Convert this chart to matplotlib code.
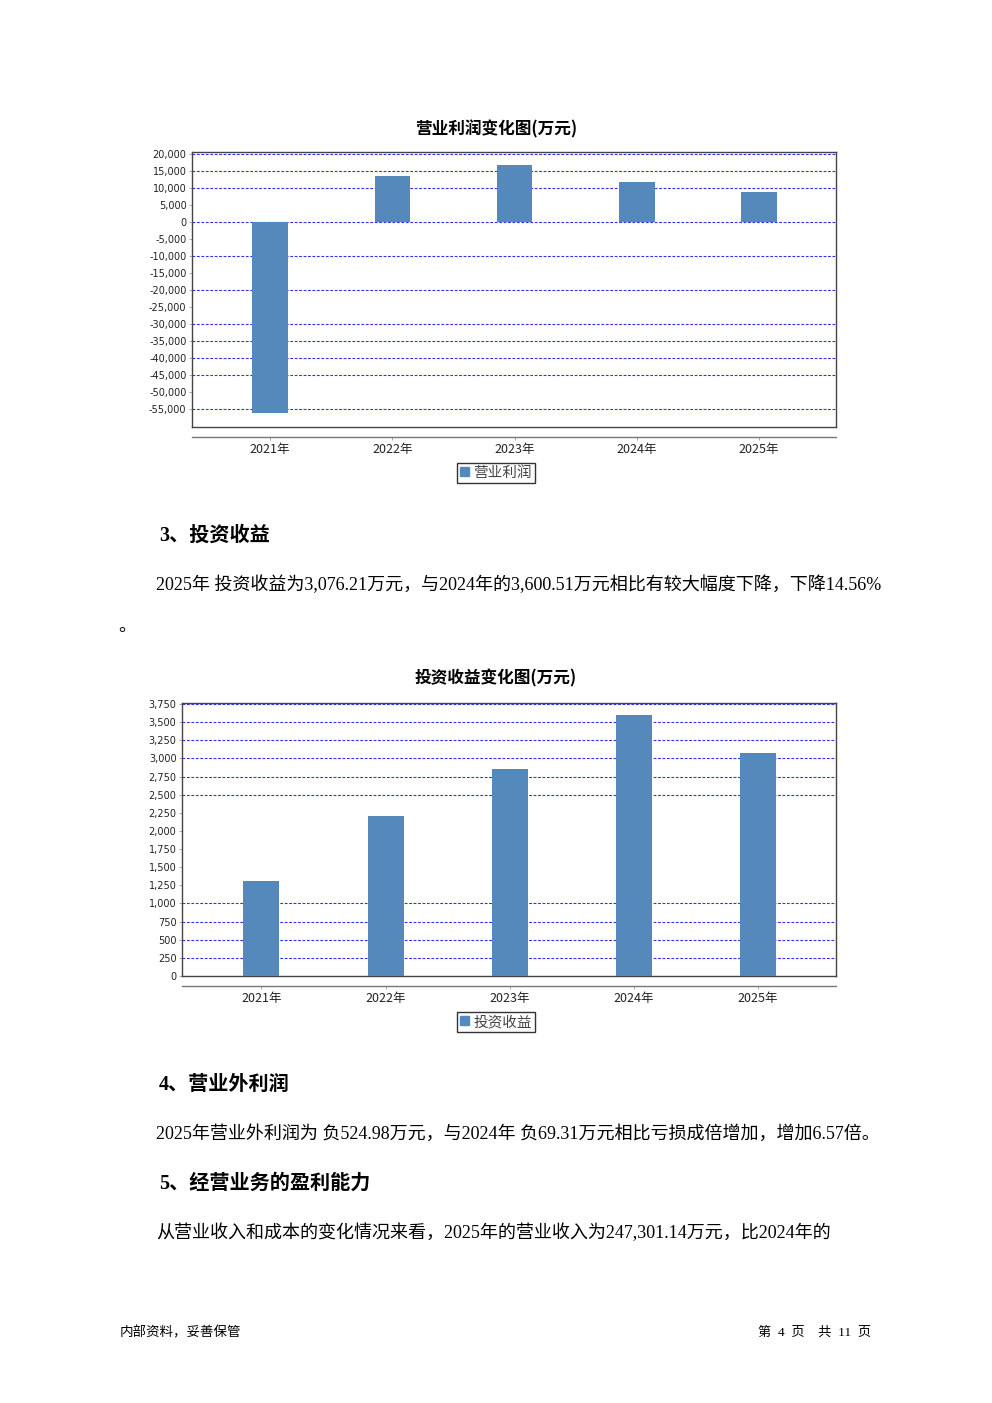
import matplotlib
matplotlib.use("Agg")
import matplotlib.pyplot as plt
from matplotlib.patches import Patch
from matplotlib.ticker import FuncFormatter

plt.rcParams['font.family'] = ['DejaVu Sans', 'Noto Sans CJK SC']
plt.rcParams['axes.unicode_minus'] = False

# 数据
years = ['2021年', '2022年', '2023年', '2024年', '2025年']
op_profit = [-56200, 13500, 16800, 11800, 8800]        # 营业利润(万元)
invest_income = [1310, 2205, 2855, 3600.51, 3076.21]   # 投资收益(万元)

op_ticks = list(range(-55000, 20001, 5000))
op_grid = [20000, 15000, 10000, 0, -10000, -20000, -30000, -35000, -40000, -45000, -55000]
inv_ticks = list(range(0, 3751, 250))
inv_grid = [3750, 3500, 3250, 3000, 2750, 2500, 1000, 750, 500, 250]

BAR = '#5589bc'
GRID = '#3030f0'
SERIF = ['Liberation Serif', 'Noto Sans CJK SC']
SANS = ['Noto Sans CJK SC', 'DejaVu Sans']

W, H = 992, 1403
fig = plt.figure(figsize=(W / 100, H / 100), dpi=100)


def box(l, t, r, b):
    return [l / W, 1 - b / H, (r - l) / W, (b - t) / H]


def chart(l, t, r, b, cat_y, values, ticks, grid, ylim, title, title_y, name, leg_y):
    ax = fig.add_axes(box(l, t, r, b))
    x = range(len(values))
    ax.bar(x, values, width=0.29, color=BAR, zorder=3)
    for g in grid:
        ax.axhline(g, color=GRID, lw=0.8, ls=(0, (2.5, 1.5)), zorder=2)
    ax.set_xlim(-0.64, len(values) - 0.37)
    ax.set_ylim(*ylim)
    ax.set_yticks(ticks)
    ax.yaxis.set_major_formatter(FuncFormatter(lambda v, p: format(int(v), ',')))
    ax.tick_params(axis='y', labelsize=7, length=2, width=0.5, colors='#888888',
                   labelcolor='#222222', pad=2)
    ax.set_xticks([])
    for s in ax.spines.values():
        s.set_color('#444444')
        s.set_linewidth(1.0)

    # 分类轴
    cax = fig.add_axes(box(l, cat_y, r, cat_y + 1))
    cax.set_xlim(ax.get_xlim())
    cax.set_ylim(0, 1)
    cax.set_yticks([])
    for s in ['top', 'left', 'right']:
        cax.spines[s].set_visible(False)
    cax.spines['bottom'].set_color('#777777')
    cax.spines['bottom'].set_linewidth(1.0)
    cax.patch.set_alpha(0)
    cax.set_xticks(list(x))
    cax.set_xticklabels(years, family=SANS, fontsize=9, color='#222222')
    cax.tick_params(axis='x', length=2.5, width=0.6, colors='#999999', labelcolor='#222222', pad=1.5)

    fig.text(496 / W, 1 - title_y / H, title, ha='center', va='center',
             fontsize=12, fontweight='bold', family=SANS)
    leg = fig.legend(handles=[Patch(color=BAR, label=name)], loc='center',
                     bbox_to_anchor=(496 / W, 1 - leg_y / H), fancybox=False,
                     handlelength=0.6, handleheight=0.6, handletextpad=0.3,
                     borderpad=0.2, borderaxespad=0, prop={'family': SANS, 'size': 10.5})
    leg.get_frame().set_edgecolor('black')
    leg.get_frame().set_linewidth(1.0)
    for t in leg.get_texts():
        t.set_color('#444444')


chart(192, 152, 836, 427, 436, op_profit, op_ticks, op_grid, (-60300, 20600),
      '营业利润变化图(万元)', 129, '营业利润', 473)
chart(182, 703, 836, 976, 985, invest_income, inv_ticks, inv_grid, (0, 3765),
      '投资收益变化图(万元)', 678, '投资收益', 1022)


def txt(x, y, s, size=13, bold=False):
    fig.text(x / W, 1 - y / H, s, ha='left', va='center', fontsize=size,
             fontweight='bold' if bold else 'normal', family=SERIF)


txt(159, 536, '3、投资收益', 14.5, True)
txt(156, 585, '2025年 投资收益为3,076.21万元，与2024年的3,600.51万元相比有较大幅度下降，下降14.56%')
txt(118, 626, '。')
txt(159, 1085, '4、营业外利润', 14.5, True)
txt(156, 1134, '2025年营业外利润为 负524.98万元，与2024年 负69.31万元相比亏损成倍增加，增加6.57倍。')
txt(159, 1184, '5、经营业务的盈利能力', 14.5, True)
txt(156, 1233, '从营业收入和成本的变化情况来看，2025年的营业收入为247,301.14万元，比2024年的')

txt(120, 1333, '内部资料，妥善保管', 9.7)
fig.text(871 / W, 1 - 1333 / H, '第  4  页    共  11  页', ha='right', va='center',
         fontsize=9.5, family=SERIF)

fig.savefig('out.png', dpi=100)
